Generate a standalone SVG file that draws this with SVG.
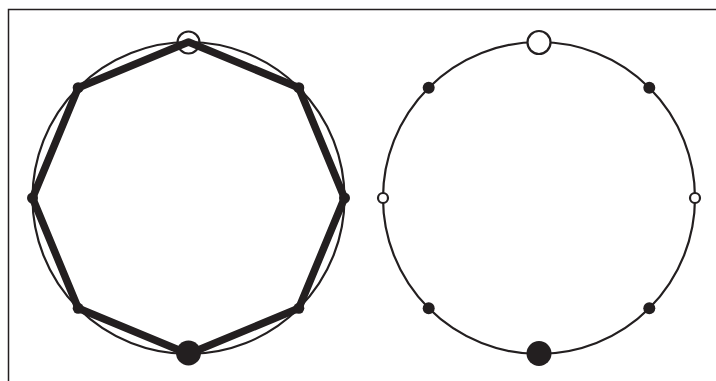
<svg xmlns="http://www.w3.org/2000/svg" width="716" height="381" viewBox="0 0 716 381">
<style>
.ring{fill:none;stroke:#231f20;stroke-width:2.2}
.poly{fill:none;stroke:#231f20;stroke-width:7.5;stroke-linejoin:round}
.dot{fill:#231f20}
.hollow{fill:#fff;stroke:#231f20;stroke-width:2.2}
.open{fill:none;stroke:#231f20;stroke-width:2.2}
.frame{fill:none;stroke:#231f20;stroke-width:1.5}
</style>
<rect width="716" height="381" fill="#fff"/>
<path class="frame" d="M8.5 381 V9.5 H716"/>
<g id="connectors">
<circle class="ring" cx="188.5" cy="198" r="156"/>
<polygon class="poly" points="188.5,42 298.8,87.7 344.5,198 298.8,308.3 188.5,354 78.2,308.3 32.5,198 78.2,87.7"/>
<circle class="ring" cx="539" cy="198" r="156"/>
</g>
<g id="left-nodes">
<g id="l-top"><circle class="open" cx="188.5" cy="42.5" r="11"/></g>
<g id="l-ne"><circle class="dot" cx="298.8" cy="87.7" r="5.5"/></g>
<g id="l-e"><circle class="dot" cx="344.5" cy="198" r="5.5"/></g>
<g id="l-se"><circle class="dot" cx="298.8" cy="308.3" r="5.5"/></g>
<g id="l-bottom"><circle class="dot" cx="188.5" cy="353" r="12.5"/></g>
<g id="l-sw"><circle class="dot" cx="78.2" cy="308.3" r="5.5"/></g>
<g id="l-w"><circle class="dot" cx="32.5" cy="198" r="5.5"/></g>
<g id="l-nw"><circle class="dot" cx="78.2" cy="87.7" r="5.5"/></g>
</g>
<g id="right-nodes">
<g id="r-top"><circle class="hollow" cx="539" cy="42.5" r="11.5"/></g>
<g id="r-ne"><circle class="dot" cx="649.3" cy="87.7" r="6"/></g>
<g id="r-e"><circle class="hollow" cx="695" cy="198" r="5"/></g>
<g id="r-se"><circle class="dot" cx="649.3" cy="308.3" r="6"/></g>
<g id="r-bottom"><circle class="dot" cx="539" cy="353.5" r="12.5"/></g>
<g id="r-sw"><circle class="dot" cx="428.7" cy="308.3" r="6"/></g>
<g id="r-w"><circle class="hollow" cx="383" cy="198" r="5"/></g>
<g id="r-nw"><circle class="dot" cx="428.7" cy="87.7" r="6"/></g>
</g>
</svg>
